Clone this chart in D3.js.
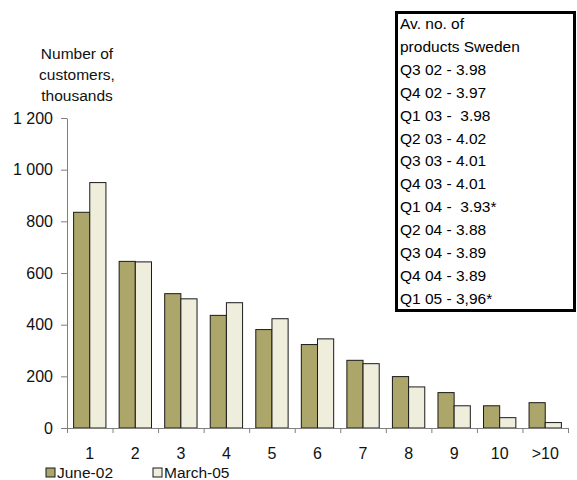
<!DOCTYPE html>
<html>
<head>
<meta charset="utf-8">
<script src="https://cdn.jsdelivr.net/npm/d3@7"></script>
<style>
  body { margin: 0; background: #fff; }
  svg { display: block; font-family: 'Liberation Sans', Arial, sans-serif; }
  .axis path, .axis line { stroke: #7f7f7f; }
  .axis text { font-size: 16px; fill: #111; }
</style>
</head>
<body>
<div id="chart"></div>
<script>
const categories = ['1', '2', '3', '4', '5', '6', '7', '8', '9', '10', '>10'];
const seriesNames = ['June-02', 'March-05'];
const june02 = [835, 645, 520, 436, 381, 323, 262, 199, 137, 86, 98];
const march05 = [950, 643, 500, 485, 423, 345, 249, 159, 86, 40, 21];
const yTicks = [0, 200, 400, 600, 800, 1000, 1200];
const yTitle = ['Number of', 'customers,', 'thousands'];
const boxLines = [
  'Av. no. of',
  'products Sweden',
  'Q3 02 - 3.98',
  'Q4 02 - 3.97',
  'Q1 03 -  3.98',
  'Q2 03 - 4.02',
  'Q3 03 - 4.01',
  'Q4 03 - 4.01',
  'Q1 04 -  3.93*',
  'Q2 04 - 3.88',
  'Q3 04 - 3.89',
  'Q4 04 - 3.89',
  'Q1 05 - 3,96*',
];

const translation = function(x, y) {
  return 'translate(' + x + ',' + y + ')';
};

const colors = { 'June-02': '#aca66a', 'March-05': '#efeddc' };

const width = 577;
const height = 480;
const plot = { left: 67, right: 568, top: 118, bottom: 428 };

const svg = d3.select('#chart').append('svg')
  .attr('width', width)
  .attr('height', height);

const data = categories.map(function(c, i) {
  return { group: c, 'June-02': june02[i], 'March-05': march05[i] };
});

const xScale = d3.scaleBand()
  .domain(categories)
  .range([plot.left, plot.right])
  .paddingInner(0.29)
  .paddingOuter(0.145);

const xInner = d3.scaleBand()
  .domain(seriesNames)
  .range([0, xScale.bandwidth()]);

const yScale = d3.scaleLinear()
  .domain([0, 1200])
  .range([plot.bottom, plot.top]);

// tick marks sit between the categories
const xEdges = d3.scaleLinear()
  .domain([0, categories.length])
  .range([plot.left, plot.right]);

const fmt = d3.formatLocale({ decimal: '.', thousands: ' ', grouping: [3], currency: ['', ''] }).format(',');

// bars
const groups = svg.append('g')
  .selectAll('g')
  .data(data)
  .enter().append('g')
  .attr('transform', function(d) { return translation(xScale(d.group), 0); });

groups.selectAll('rect')
  .data(function(d) { return seriesNames.map(function(s) { return { key: s, value: d[s] }; }); })
  .enter().append('rect')
  .attr('x', function(d) { return xInner(d.key); })
  .attr('y', function(d) { return yScale(d.value); })
  .attr('width', xInner.bandwidth())
  .attr('height', function(d) { return yScale(0) - yScale(d.value); })
  .attr('fill', function(d) { return colors[d.key]; })
  .attr('stroke', '#1a1a1a')
  .attr('stroke-width', 1);

// axes
svg.append('g')
  .attr('class', 'axis y')
  .attr('transform', translation(plot.left, 0))
  .call(d3.axisLeft(yScale).tickValues(yTicks).tickFormat(fmt).tickSize(6).tickPadding(8).tickSizeOuter(0));

svg.append('g')
  .attr('class', 'axis x ticks')
  .attr('transform', translation(0, plot.bottom))
  .call(d3.axisBottom(xEdges).tickValues(d3.range(categories.length + 1)).tickFormat('').tickSize(5).tickSizeOuter(0));

svg.append('g')
  .attr('class', 'axis x labels')
  .attr('transform', translation(0, plot.bottom))
  .call(d3.axisBottom(xScale).tickSize(0).tickPadding(20))
  .call(function(g) { g.select('.domain').remove(); });

// y title
svg.append('g')
  .selectAll('text')
  .data(yTitle)
  .enter().append('text')
  .attr('x', 77)
  .attr('y', function(d, i) { return 58.5 + i * 21; })
  .attr('text-anchor', 'middle')
  .attr('font-size', 15.5)
  .attr('fill', '#111')
  .text(function(d) { return d; });

// info box
const box = svg.append('g');
box.append('rect')
  .attr('x', 396.5)
  .attr('y', 12.5)
  .attr('width', 178)
  .attr('height', 298)
  .attr('fill', '#fff')
  .attr('stroke', '#000')
  .attr('stroke-width', 3);

box.selectAll('text')
  .data(boxLines)
  .enter().append('text')
  .attr('x', 400)
  .attr('y', function(d, i) { return 29 + i * 22.9; })
  .attr('font-size', 15.5)
  .attr('fill', '#000')
  .style('white-space', 'pre')
  .text(function(d) { return d; });

// legend
const legend = svg.append('g')
  .selectAll('g')
  .data(seriesNames)
  .enter().append('g')
  .attr('transform', function(d, i) { return translation(46 + i * 107, 468); });

legend.append('rect')
  .attr('width', 9)
  .attr('height', 9)
  .attr('fill', function(d) { return colors[d]; })
  .attr('stroke', '#1a1a1a');

legend.append('text')
  .attr('x', 11)
  .attr('y', 9.5)
  .attr('font-size', 15.5)
  .attr('fill', '#111')
  .text(function(d) { return d; });
</script>
</body>
</html>
